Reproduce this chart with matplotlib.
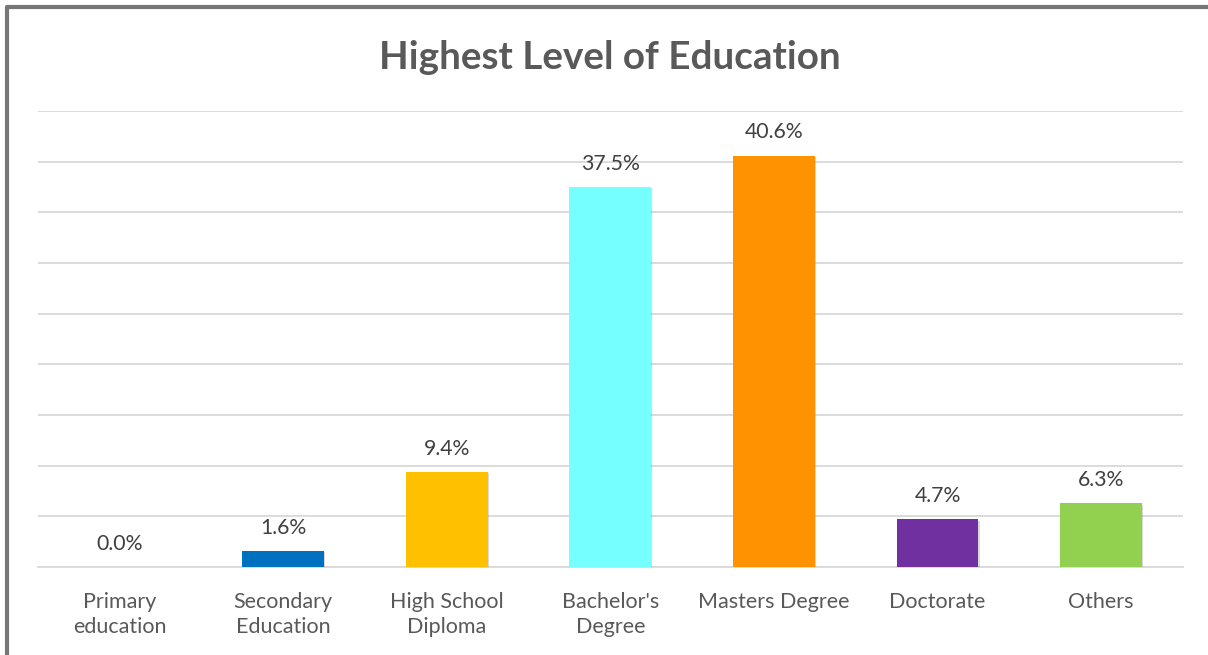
import matplotlib
matplotlib.use("Agg")
import matplotlib.pyplot as plt
import matplotlib.patheffects as pe
from matplotlib.lines import Line2D

# data
categories = ["Primary\neducation", "Secondary\nEducation", "High School\nDiploma",
              "Bachelor's\nDegree", "Masters Degree", "Doctorate", "Others"]
shares = [0.0, 1.6, 9.4, 37.5, 40.6, 4.7, 6.3]
bar_colors = ["#5B9BD5", "#0070C0", "#FFC000", "#75FFFF", "#FF9200", "#7030A0", "#92D050"]

plt.rcParams['font.family'] = ['Lato', 'DejaVu Sans']

fig = plt.figure(figsize=(12.08, 6.55), dpi=100)
ax = fig.add_axes([0.0311, 0.1344, 0.9482, 0.6961])

x = range(len(categories))
bars = ax.bar(x, shares, width=0.5, color=bar_colors, zorder=3)
for b in bars:
    b.set_path_effects([pe.SimplePatchShadow(offset=(0.8, -1), shadow_rgbFace="#000000", alpha=0.15),
                        pe.Normal()])

for xi, v in zip(x, shares):
    ax.text(xi, v + 1.3, "{:.1f}%".format(v), ha="center", va="bottom",
            fontsize=15.3, color="#404040")

ax.set_xlim(-0.5, len(categories) - 0.5)
ax.set_ylim(0, 45)
ax.set_yticks(range(0, 46, 5))
ax.set_yticklabels([])
ax.tick_params(axis="y", length=0)
ax.grid(axis="y", color="#D9D9D9", linewidth=1.3, zorder=0)
ax.set_xticks(list(x))
ax.set_xticklabels(categories, fontsize=15.5, color="#595959", linespacing=1.3)
ax.tick_params(axis="x", length=0, pad=18)
for s in ["top", "right", "left"]:
    ax.spines[s].set_visible(False)
ax.spines["bottom"].set_color("#D9D9D9")
ax.spines["bottom"].set_linewidth(1.3)

fig.text(0.505, 0.912, "Highest Level of Education", ha="center", va="center",
         fontsize=27.8, fontweight="bold", color="#595959")

# outer frame, only the top and left edges are visible in the screenshot
fx = 7.5 / 1208
fy = 1 - 6.5 / 655
fig.add_artist(Line2D([fx, fx, 1.0], [0.0, fy, fy], transform=fig.transFigure,
                      color="#767676", linewidth=3))

fig.savefig("out.png", dpi=100)
